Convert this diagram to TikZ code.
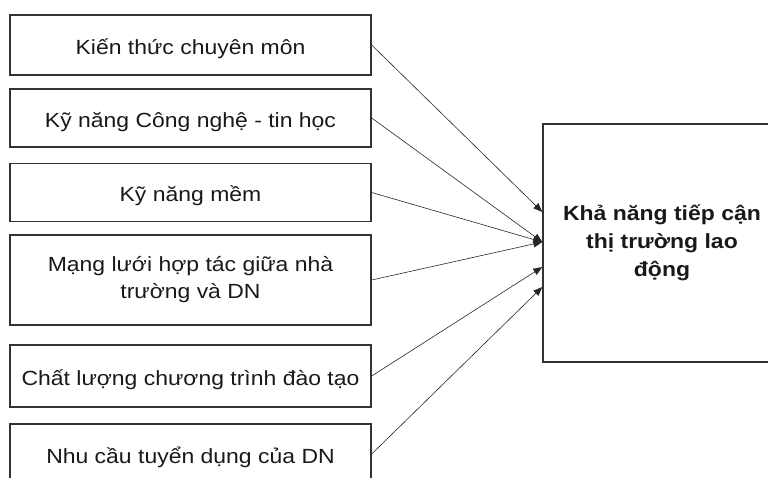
\documentclass[tikz,border=0pt]{standalone}
\usepackage{fontspec}
\setmainfont{Liberation Sans}[FakeStretch=1.12]
\usetikzlibrary{arrows.meta}
\begin{document}
\begin{tikzpicture}[x=1pt,y=-1pt,
  box/.style={draw=black!80, line width=1.4pt, rectangle, inner sep=0pt,
    align=center, font=\fontsize{20.5}{27}\selectfont, text=black!90},
  onebox/.style={box, text height=18pt, text depth=0pt},
  goal/.style={box, font=\fontsize{20.5}{28}\selectfont\bfseries},
  arr/.style={-{Triangle[length=9pt,width=7pt]}, line width=0.6pt, draw=black!85}]
\useasboundingbox (0,0) rectangle (768,477);
\clip (0,0) rectangle (768,477);
\node[onebox, minimum width=361pt, minimum height=60pt] (b1) at (190.5,45) {Kiến thức chuyên môn};
\node[onebox, minimum width=361pt, minimum height=58pt] (b2) at (190.5,118) {Kỹ năng Công nghệ - tin học};
\node[onebox, minimum width=361pt, minimum height=58.5pt] (b3) at (190.5,192.5) {Kỹ năng mềm};
\node[box, minimum width=361pt, minimum height=90pt] (b4) at (190.5,280) {Mạng lưới hợp tác giữa nhà\\trường và DN};
\node[onebox, minimum width=361pt, minimum height=62pt] (b5) at (190.5,376) {Chất lượng chương trình đào tạo};
\node[onebox, minimum width=361pt, minimum height=60pt] (b6) at (190.5,454) {Nhu cầu tuyển dụng của DN};
\node[goal, minimum width=238pt, minimum height=238pt] (g) at (662,243) {Khả năng tiếp cận\\thị trường lao\\động};
\draw[arr] (b1.east) -- ([yshift=31pt]g.west);
\draw[arr] (b2.east) -- ([yshift=1pt]g.west);
\draw[arr] (b3.east) -- ([yshift=1pt]g.west);
\draw[arr] (b4.east) -- ([yshift=1pt]g.west);
\draw[arr] (b5.east) -- ([yshift=-24pt]g.west);
\draw[arr] (b6.east) -- ([yshift=-44pt]g.west);
\end{tikzpicture}
\end{document}
